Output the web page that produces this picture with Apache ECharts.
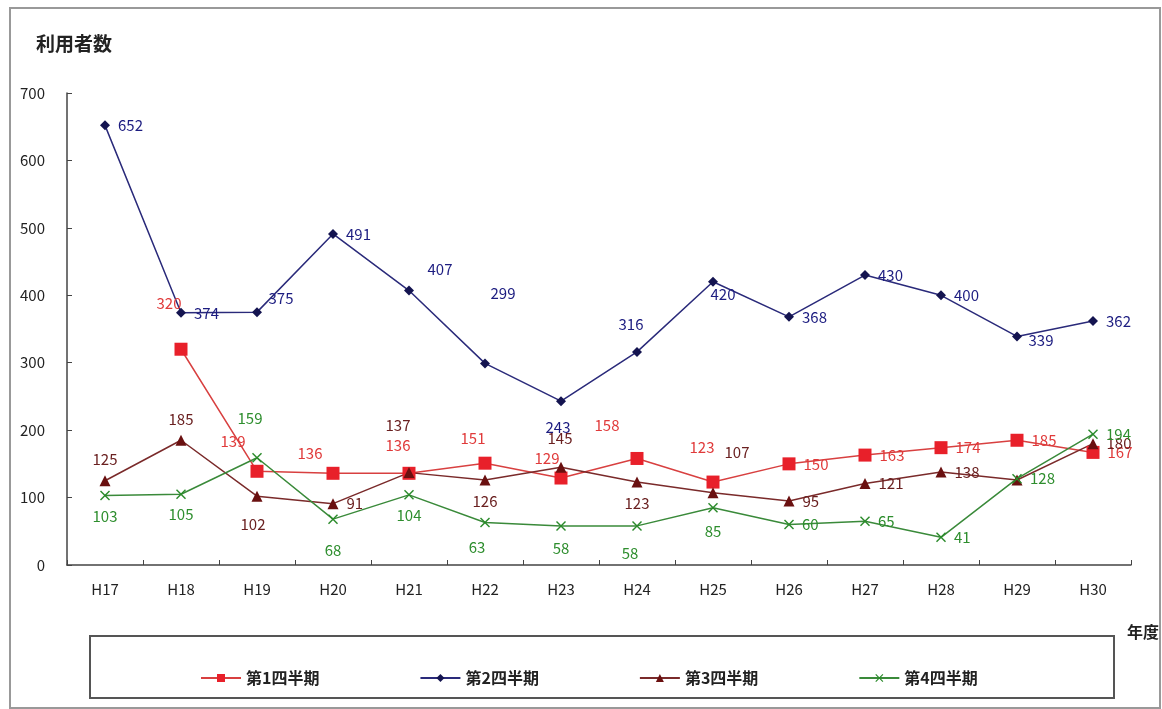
<!DOCTYPE html>
<html><head><meta charset="utf-8">
<script src="https://cdn.jsdelivr.net/npm/echarts@6/dist/echarts.min.js"></script>
<style>html,body{margin:0;padding:0;background:#fff}#c{width:1162px;height:709px}</style>
</head><body><div id="c"></div>
<script>
const categories = ['H17','H18','H19','H20','H21','H22','H23','H24','H25','H26','H27','H28','H29','H30'];
const seriesNames = ['第1四半期','第2四半期','第3四半期','第4四半期'];
const q1 = [null,320,139,136,136,151,129,158,123,150,163,174,185,167];
const q2 = [652,374,375,491,407,299,243,316,420,368,430,400,339,362];
const q3 = [125,185,102,91,137,126,145,123,107,95,121,138,126,180];
const q4 = [103,105,159,68,104,63,58,58,85,60,65,41,128,194];
const yTicks = [0,100,200,300,400,500,600,700];

// label placement (style only)
const L1 = ['top',[-12,-46],[-24,-30],[-23,-20],[-11,-28],[-12,-25],[-14,-20],[-30,-33],[-11,-35],'right','right','right','right','right'];
const L2 = ['right','right',[24,-14],'right',[31,-21],[18,-70],[-3,26],[-6,-28],[10,12],'right','right','right',[24,4],'right'];
const L3 = ['top','top',[-4,28],'right',[-11,-47],'bottom',[-1,-29],'bottom',[24,-41],'right','right','right',null,'right'];
const L4 = ['bottom','bottom',[-7,-39],[0,31],'bottom',[-8,25],[0,22],[-7,27],[0,24],'right','right','right','right','right'];

const chart = echarts.init(document.getElementById('c'));
const font = '"Noto Sans CJK JP", sans-serif';
const xPath = 'path://M0,1L1,0L5,4L9,0L10,1L6,5L10,9L9,10L5,6L1,10L0,9L4,5Z';
function withLabels(vals, pos) {
  return vals.map((v, i) => {
    const p = pos[i];
    if (v === null) return null;
    if (p === null) return {value: v, label: {show: false}};
    if (typeof p === 'string') return {value: v, label: {position: p}};
    return {value: v, label: {position: 'inside', offset: p}};
  });
}
function mk(name, data, pos, color, lineColor, symbol, size, lblColor) {
  return {
    name, type:'line', data: withLabels(data, pos), symbol, symbolSize:size,
    lineStyle:{color:lineColor, width:1.5},
    itemStyle:{color:color},
    label:{show:true, color:lblColor, fontSize:15, fontFamily:font, distance:8},
    z: 3
  };
}
chart.setOption({
  animation:false,
  textStyle:{fontFamily:font},
  graphic:[
    {type:'rect', shape:{x:10,y:8,width:1150,height:700}, style:{fill:'none', stroke:'#999', lineWidth:2}},
    {type:'rect', shape:{x:90,y:636,width:1024,height:62}, style:{fill:'none', stroke:'#555', lineWidth:2}},
    {type:'text', left:1127, top:624, style:{text:'年度', font:'bold 16px '+font, fill:'#222'}},
    {type:'text', left:36, top:34, style:{text:'利用者数', font:'bold 19px '+font, fill:'#222'}}
  ],
  legend:{
    bottom:18, left:195, itemGap:100, itemWidth:40, itemHeight:10,
    textStyle:{fontSize:16, color:'#222', fontFamily:font, fontWeight:'bold'},
    data:seriesNames
  },
  grid:{left:67, right:31, top:93, bottom:144},
  xAxis:{
    type:'category', data:categories, boundaryGap:true,
    axisLine:{lineStyle:{color:'#444', width:1.5}},
    axisTick:{show:true, inside:true, length:5, lineStyle:{color:'#444'}},
    axisLabel:{color:'#222', fontSize:15, margin:17, fontFamily:font}
  },
  yAxis:{
    type:'value', min:0, max:700, interval:100,
    axisLine:{show:true, lineStyle:{color:'#444', width:1.5}},
    axisTick:{show:true, inside:true, length:5, lineStyle:{color:'#444'}},
    splitLine:{show:false},
    axisLabel:{color:'#222', fontSize:15, margin:22, fontFamily:font,
      formatter:v => yTicks.includes(v) ? String(v) : ''}
  },
  series:[
    mk(seriesNames[0], q1, L1, '#e8202a', '#d84040', 'rect', 13, '#e03a3a'),
    mk(seriesNames[1], q2, L2, '#141450', '#2a2a7a', 'diamond', 10, '#1c1c80'),
    mk(seriesNames[2], q3, L3, '#6a1010', '#7a2a2a', 'triangle', 11, '#6a2020'),
    mk(seriesNames[3], q4, L4, '#2a8a2a', '#3a8a3a', xPath, 10, '#2e8e2e')
  ]
});
</script></body></html>
